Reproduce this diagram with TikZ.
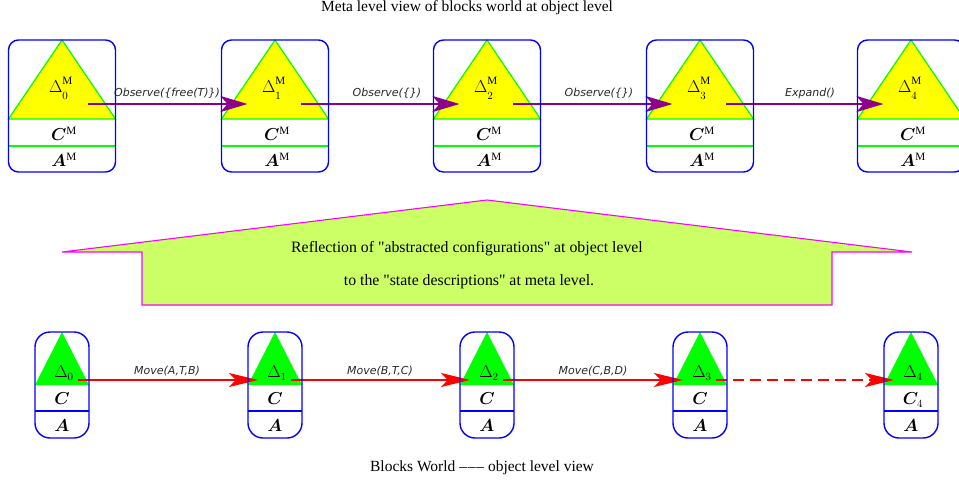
\documentclass[tikz,border=0pt]{standalone}
\usepackage{fontspec}
\setmainfont{Liberation Serif}
\newfontfamily\lblfont{DejaVu Sans}
\usepackage{bm}
\usetikzlibrary{arrows.meta}
\definecolor{mblue}{RGB}{0,0,255}
\definecolor{mgreen}{RGB}{0,255,0}
\definecolor{myellow}{RGB}{255,255,0}
\definecolor{mpurple}{RGB}{140,0,140}
\definecolor{mred}{RGB}{255,0,0}
\definecolor{mlime}{RGB}{204,255,102}
\definecolor{mmag}{RGB}{255,0,255}
\definecolor{lblgray}{RGB}{40,40,40}
\newcommand{\metadelta}[1]{$\Delta^{\raisebox{2.5pt}{$\scriptstyle\mathrm{M}$}}_{\raisebox{-2pt}{$\scriptstyle #1$}}$}
\tikzset{
  metabox/.style={draw=mblue, line width=1.4pt, rounded corners=10pt, minimum width=107pt, minimum height=132pt, inner sep=0pt},
  objbox/.style={draw=mblue, line width=1.4pt, rounded corners=15pt, minimum width=54pt, minimum height=106pt, inner sep=0pt},
  sym/.style={inner sep=0pt, font=\fontsize{16}{19}\selectfont},
  lbl/.style={inner sep=0pt, text=lblgray, font=\lblfont\itshape\fontsize{11}{13}\selectfont},
  ttl/.style={inner sep=0pt, font=\fontsize{15.5}{18}\selectfont},
  metaarrow/.style={draw=mpurple, line width=1.8pt, -{Stealth[length=27pt,width=16pt,inset=7pt]}},
  objarrow/.style={draw=mred, line width=1.6pt, -{Stealth[length=29pt,width=14pt,inset=7pt]}},
}
\begin{document}
\begin{tikzpicture}[x=1pt,y=-1pt]
\clip (0,0) rectangle (959,488);
% titles
\node[ttl] (toptitle) at (467,8) {Meta level view of blocks world at object level};
\node[ttl] (bottitle) at (482,468) {Blocks World –\kern0.8pt–\kern0.8pt– object level view};
% big reflection arrow
\draw[fill=mlime, draw=mmag, line width=1.1pt] (487,200) -- (912,252) -- (832,252) -- (832,305) -- (142,305) -- (142,252) -- (62,252) -- cycle;
\node[ttl, font=\fontsize{15.8}{18}\selectfont] (refl1) at (467,249) {Reflection of \textquotedbl abstracted configurations\textquotedbl{} at object level};
\node[ttl, font=\fontsize{15.8}{18}\selectfont] (refl2) at (469,282) {to the \textquotedbl state descriptions\textquotedbl{} at meta level.};
% meta level boxes: fills
\foreach \c [count=\i from 0] in {62,275,487,700,911}{
  \fill[myellow, draw=mgreen, line width=1.2pt] (\c,40) -- (\c+53.5,119) -- (\c-53.5,119) -- cycle;
  \draw[mgreen, line width=1.2pt] (\c-53.5,146) -- (\c+53.5,146);
  \coordinate (ms\i) at (\c+26,104);
  \coordinate (mt\i) at (\c-27.5,104);
}
% object level fills
\foreach \c [count=\i from 0] in {62,275,487,700,911}{
  \fill[mgreen] (\c,332) -- (\c+27,385) -- (\c-27,385) -- cycle;
  \draw[mblue, line width=1.2pt] (\c-27,411) -- (\c+27,411);
  \coordinate (os\i) at (\c+16,380);
  \coordinate (ot\i) at (\c-17,380);
}
% meta arrows
\draw[metaarrow] (ms0) -- (mt1);
\draw[metaarrow] (ms1) -- (mt2);
\draw[metaarrow] (ms2) -- (mt3);
\draw[metaarrow] (ms3) -- (mt4);
\node[lbl] (ml0) at (167,93) {Observe(\{free(T)\})};
\node[lbl] (ml1) at (387,93) {Observe(\{\})};
\node[lbl] (ml2) at (599,93) {Observe(\{\})};
\node[lbl] (ml3) at (810,93) {Expand()};
% object arrows
\draw[objarrow] (os0) -- (ot1);
\draw[objarrow] (os1) -- (ot2);
\draw[objarrow] (os2) -- (ot3);
\draw[objarrow, dash pattern=on 11pt off 6pt] (os3) -- (ot4);
\node[lbl] (ol0) at (167,371) {Move(A,T,B)};
\node[lbl] (ol1) at (380,371) {Move(B,T,C)};
\node[lbl] (ol2) at (593,371) {Move(C,B,D)};
% box borders and labels
\foreach \c [count=\i from 0] in {62,275,487,700,911}{
  \node[metabox] (mb\i) at (\c,106) {};
  \node[sym] (md\i) at (\c-1,88) {\metadelta{\i}};
  \node[sym] (mc\i) at (\c+2,134) {$\bm{C}^{\mathrm{M}}$};
  \node[sym] (ma\i) at (\c+2,160) {$\bm{A}^{\mathrm{M}}$};
  \node[objbox] (ob\i) at (\c,385) {};
  \node[sym] (od\i) at (\c+2,373) {$\Delta_{\i}$};
  \node[sym] (oa\i) at (\c,426) {$\bm{A}$};
}
\foreach \c [count=\i from 0] in {62,275,487,700}{
  \node[sym] (oc\i) at (\c,399) {$\bm{C}$};
}
\node[sym] (oc4) at (913,400) {$\bm{C}_4$};
\end{tikzpicture}
\end{document}
